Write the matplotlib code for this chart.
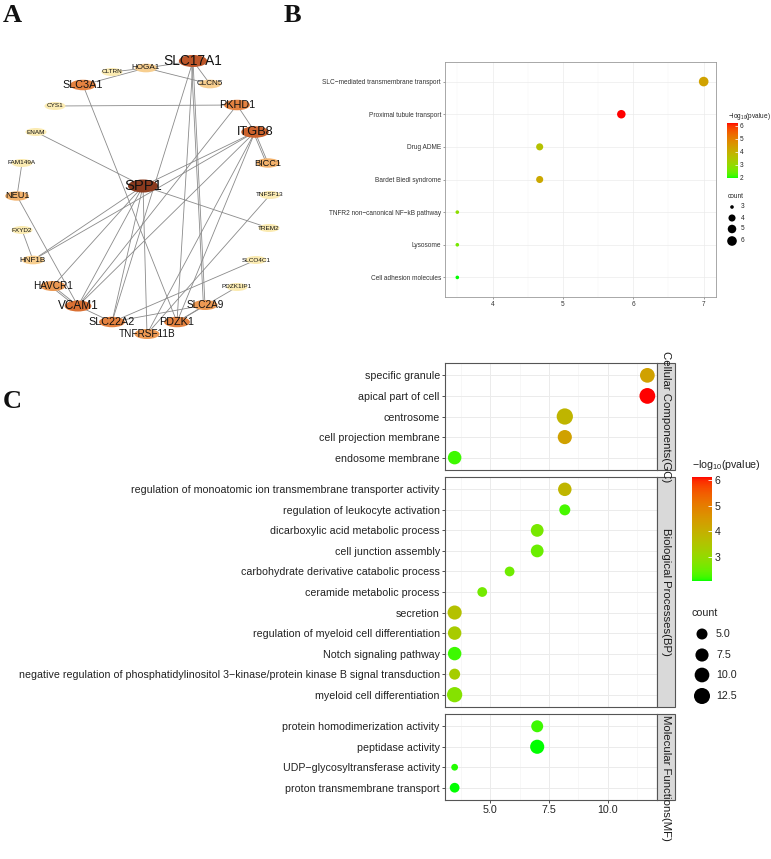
import numpy as np
import matplotlib
matplotlib.use('Agg')
import matplotlib.pyplot as plt
import matplotlib.colors as mcolors
from matplotlib.patches import Ellipse, Rectangle
from matplotlib.cm import ScalarMappable

plt.rcParams['font.family'] = ['Liberation Sans', 'DejaVu Sans']
plt.rcParams['mathtext.fontset'] = 'custom'
plt.rcParams['mathtext.rm'] = 'Liberation Sans'
plt.rcParams['mathtext.default'] = 'regular'

W, H = 771, 859

# ---------------- data: panel A (network) ----------------
genes = ["SPP1", "SLC17A1", "HOGA1", "CLTRN", "SLC3A1", "CLCN5", "CYS1", "PKHD1",
         "ENAM", "ITGB8", "FAM149A", "BICC1", "NEU1", "TNFSF13", "FXYD2", "TREM2",
         "HNF1B", "SLCO4C1", "HAVCR1", "PDZK1IP1", "VCAM1", "SLC2A9", "SLC22A2",
         "PDZK1", "TNFRSF11B"]
# layout positions (pixels)
gene_x = [143, 193, 146, 112, 83, 210, 55, 237, 36, 255, 22, 268, 17, 270, 22, 269,
          33, 256, 53, 237, 78, 205, 112, 177, 147]
gene_y = [186, 61, 68, 72, 85, 84, 106, 105, 132, 132, 163, 163, 196, 195, 230, 228,
          260, 260, 286, 287, 306, 305, 322, 322, 334]
gene_degree = [10, 8, 2, 1, 5, 2, 1, 5, 1, 7, 1, 3, 3, 1, 1, 1,
               2, 1, 4, 1, 6, 4, 5, 5, 4]
edges = [("SLC3A1", "HOGA1"), ("CLTRN", "HOGA1"), ("HOGA1", "SLC17A1"),
         ("HOGA1", "CLCN5"), ("SLC17A1", "CLCN5"), ("SLC17A1", "PDZK1"),
         ("SLC17A1", "SLC2A9"), ("SLC17A1", "SLC2A9"), ("SLC3A1", "PDZK1"),
         ("CYS1", "PKHD1"), ("PKHD1", "ITGB8"), ("PKHD1", "VCAM1"),
         ("ITGB8", "BICC1"), ("ITGB8", "BICC1"), ("ITGB8", "SPP1"),
         ("ITGB8", "VCAM1"), ("ITGB8", "TNFRSF11B"), ("ITGB8", "PDZK1"),
         ("ITGB8", "HNF1B"), ("ENAM", "SPP1"), ("SPP1", "TREM2"), ("SPP1", "HNF1B"),
         ("SPP1", "HAVCR1"), ("SPP1", "VCAM1"), ("SPP1", "SLC22A2"),
         ("SPP1", "TNFRSF11B"), ("FAM149A", "NEU1"), ("NEU1", "VCAM1"),
         ("FXYD2", "HNF1B"), ("HAVCR1", "VCAM1"), ("HAVCR1", "VCAM1"),
         ("TNFSF13", "TNFRSF11B"), ("SLCO4C1", "SLC22A2"), ("PDZK1IP1", "PDZK1"),
         ("SLC2A9", "PDZK1"), ("SLC22A2", "SLC2A9"), ("VCAM1", "SLC22A2"),
         ("SLC17A1", "SLC22A2")]

# ---------------- data: panel B (pathways) ----------------
b_terms = ["SLC\u2212mediated transmembrane transport", "Proximal tubule transport",
           "Drug ADME", "Bardet Biedl syndrome", "TNFR2 non\u2212canonical NF\u2212kB pathway",
           "Lysosome", "Cell adhesion molecules"]
b_x = [7.0, 5.83, 4.67, 4.67, 3.5, 3.5, 3.5]
b_count = [6, 5, 4, 4, 3, 3, 3]
b_logp = [4.3, 6.2, 3.6, 4.15, 2.9, 2.6, 2.0]
b_ticks = [4, 5, 6, 7]
b_size_breaks = [3, 4, 5, 6]

# ---------------- data: panel C (GO) ----------------
cc_terms = ["specific granule", "apical part of cell", "centrosome",
            "cell projection membrane", "endosome membrane"]
cc_x = [11.67, 11.67, 8.17, 8.17, 3.5]
cc_count = [10, 12, 13, 9, 8]
cc_logp = [4.3, 6.12, 3.85, 4.3, 2.2]

bp_terms = ["regulation of monoatomic ion transmembrane transporter activity",
            "regulation of leukocyte activation", "dicarboxylic acid metabolic process",
            "cell junction assembly", "carbohydrate derivative catabolic process",
            "ceramide metabolic process", "secretion",
            "regulation of myeloid cell differentiation", "Notch signaling pathway",
            "negative regulation of phosphatidylinositol 3\u2212kinase/protein kinase B signal transduction",
            "myeloid cell differentiation"]
bp_x = [8.17, 8.17, 7.0, 7.0, 5.83, 4.67, 3.5, 3.5, 3.5, 3.5, 3.5]
bp_count = [8, 5, 7, 7, 4, 4, 9, 8, 8, 5, 11]
bp_logp = [3.85, 2.25, 2.65, 2.5, 2.55, 2.6, 3.6, 3.35, 2.2, 3.3, 2.8]

mf_terms = ["protein homodimerization activity", "peptidase activity",
            "UDP\u2212glycosyltransferase activity", "proton transmembrane transport"]
mf_x = [7.0, 7.0, 3.5, 3.5]
mf_count = [6, 9, 3, 4]
mf_logp = [2.2, 2.05, 2.1, 2.05]

c_ticks = [5.0, 7.5, 10.0]
c_size_breaks = [5.0, 7.5, 10.0, 12.5]


# ---------------- helpers ----------------
def box(x0, y0, x1, y1):
    return [x0 / W, 1 - y1 / H, (x1 - x0) / W, (y1 - y0) / H]


def to_lab(hexcol):
    rgb = np.array(mcolors.to_rgb(hexcol))
    lin = np.where(rgb <= 0.04045, rgb / 12.92, ((rgb + 0.055) / 1.055) ** 2.4)
    M = np.array([[0.4124564, 0.3575761, 0.1804375],
                  [0.2126729, 0.7151522, 0.0721750],
                  [0.0193339, 0.1191920, 0.9503041]])
    t = M @ lin / np.array([0.95047, 1.0, 1.08883])
    d = 6 / 29
    f = np.where(t > d ** 3, np.cbrt(t), t / (3 * d * d) + 4 / 29)
    return np.array([116 * f[1] - 16, 500 * (f[0] - f[1]), 200 * (f[1] - f[2])])


def from_lab(lab):
    L, a, b = lab
    fy = (L + 16) / 116
    f = np.array([fy + a / 500, fy, fy - b / 200])
    d = 6 / 29
    t = np.where(f > d, f ** 3, 3 * d * d * (f - 4 / 29))
    xyz = t * np.array([0.95047, 1.0, 1.08883])
    Minv = np.array([[3.2404542, -1.5371385, -0.4985314],
                     [-0.9692660, 1.8760108, 0.0415560],
                     [0.0556434, -0.2040259, 1.0572252]])
    lin = np.clip(Minv @ xyz, 0, 1)
    rgb = np.where(lin <= 0.0031308, 12.92 * lin, 1.055 * lin ** (1 / 2.4) - 0.055)
    return np.clip(rgb, 0, 1)


# ggplot-like green -> red gradient (interpolated in Lab)
lo_lab, hi_lab = to_lab("#00FF00"), to_lab("#FF0000")
gg_cmap = mcolors.ListedColormap([from_lab(lo_lab * (1 - t) + hi_lab * t)
                                  for t in np.linspace(0, 1, 256)])


def dot_px(c, lo, hi, a, b):
    s = 1 + 5 * np.sqrt((np.asarray(c, float) - lo) / (hi - lo))
    return a * (s + 0.35) + b


def area(d):
    return (np.asarray(d) * 0.72) ** 2


fig = plt.figure(figsize=(W / 100, H / 100), dpi=100)

# ---------------- panel A ----------------
axa = fig.add_axes(box(0, 40, 300, 345))
axa.set_xlim(0, 300)
axa.set_ylim(345, 40)
axa.axis('off')
pos = {g: (x, y) for g, x, y in zip(genes, gene_x, gene_y)}
seen = {}
for u, v in edges:
    key = tuple(sorted((u, v)))
    k = seen.get(key, 0)
    seen[key] = k + 1
    (x0, y0), (x1, y1) = pos[u], pos[v]
    dx, dy = x1 - x0, y1 - y0
    n = np.hypot(dx, dy)
    off = 0 if k == 0 else 1.6
    ox, oy = -dy / n * off, dx / n * off
    axa.plot([x0 + ox, x1 + ox], [y0 + oy, y1 + oy], color='#8a8a8a', lw=0.6, zorder=1)

node_cmap = mcolors.LinearSegmentedColormap.from_list(
    'deg', ['#FBEBB2', '#F2AA62', '#E07636', '#C45A2A', '#8A3A1E'])
dmax = max(gene_degree)
for g, x, y, dg in zip(genes, gene_x, gene_y, gene_degree):
    col = node_cmap((dg - 1) / (dmax - 1))
    ew = np.interp(dg, [1, 4, 10], [21, 25, 30])
    eh = np.interp(dg, [1, 4, 10], [8, 10, 13])
    axa.add_patch(Ellipse((x, y), ew, eh, facecolor=col, edgecolor='none', zorder=2))
    fs = np.interp(dg, [1, 2, 4, 6, 8, 10], [4.6, 5.9, 7.2, 8.5, 9.9, 10.7])
    axa.text(x, y, g, fontsize=fs, ha='center', va='center', color='#111111', zorder=3)

# ---------------- panel B ----------------
axb = fig.add_axes(box(445, 62, 716, 297))
nb = len(b_terms)
yb = np.arange(nb)
b_norm = mcolors.Normalize(min(b_logp), max(b_logp))
b_d = dot_px(b_count, min(b_count), max(b_count), 1.2, 2.0)
axb.scatter(b_x, yb, s=area(b_d), c=b_logp, cmap=gg_cmap, norm=b_norm,
            linewidths=0, zorder=3)
span = max(b_x) - min(b_x)
axb.set_xlim(min(b_x) - 0.05 * span, max(b_x) + 0.05 * span)
axb.set_ylim(nb - 0.4, -0.6)
axb.set_yticks(yb)
axb.set_yticklabels(b_terms)
axb.set_xticks(b_ticks)
axb.set_xticks([t - 0.5 for t in b_ticks], minor=True)
axb.grid(True, which='major', color='#EBEBEB', lw=0.5)
axb.grid(True, which='minor', axis='x', color='#F2F2F2', lw=0.3)
axb.set_axisbelow(True)
axb.tick_params(axis='both', which='major', labelsize=4.7, length=1.6, width=0.4,
                color='#555555', labelcolor='#333333', pad=1.2)
axb.tick_params(which='minor', length=0)
for sp in axb.spines.values():
    sp.set_color('#9a9a9a')
    sp.set_linewidth(0.6)

# ---------------- panel C ----------------
c_all_count = cc_count + bp_count + mf_count
c_all_logp = cc_logp + bp_logp + mf_logp
c_all_x = cc_x + bp_x + mf_x
c_lo, c_hi = min(c_all_count), max(c_all_count)
c_norm = mcolors.Normalize(min(c_all_logp), max(c_all_logp))
c_span = max(c_all_x) - min(c_all_x)
c_xlim = (min(c_all_x) - 0.05 * c_span, max(c_all_x) + 0.05 * c_span)

facets = [(cc_terms, cc_x, cc_count, cc_logp, (363, 470), "Cellular Components(GC)", 'center'),
          (bp_terms, bp_x, bp_count, bp_logp, (477, 707), "Biological Processes(BP)", 'center'),
          (mf_terms, mf_x, mf_count, mf_logp, (714, 800), "Molecular Functions(MF)", 'top')]

strip_specs = []
for i, (terms, xs, cnt, lp, (y0, y1), strip, anchor) in enumerate(facets):
    ax = fig.add_axes(box(445, y0, 657, y1))
    n = len(terms)
    yy = np.arange(n)
    d = dot_px(cnt, c_lo, c_hi, 1.9, 4.2)
    ax.scatter(xs, yy, s=area(d), c=lp, cmap=gg_cmap, norm=c_norm, linewidths=0, zorder=3)
    ax.set_xlim(*c_xlim)
    ax.set_ylim(n - 0.4, -0.6)
    ax.set_yticks(yy)
    ax.set_yticklabels(terms)
    ax.set_xticks(c_ticks)
    ax.set_xticks([t - 1.25 for t in c_ticks] + [c_ticks[-1] + 1.25], minor=True)
    ax.grid(True, which='major', color='#EBEBEB', lw=0.7)
    ax.grid(True, which='minor', axis='x', color='#F2F2F2', lw=0.4)
    ax.set_axisbelow(True)
    ax.tick_params(axis='both', which='major', labelsize=7.7, length=2.2, width=0.6,
                   color='#333333', labelcolor='#222222', pad=1.5)
    ax.tick_params(which='minor', length=0)
    if i < len(facets) - 1:
        ax.tick_params(axis='x', labelbottom=False, length=0)
    for sp in ax.spines.values():
        sp.set_color('#555555')
        sp.set_linewidth(0.8)
    strip_specs.append((y0, y1, strip, anchor))

# ---------------- overlay: labels, strips, legends ----------------
ov = fig.add_axes([0, 0, 1, 1], facecolor='none')
ov.set_xlim(0, W)
ov.set_ylim(H, 0)
ov.axis('off')

for lab, (x, y) in zip("ABC", [(3, 22), (284, 22), (3, 408)]):
    ov.text(x, y, lab, fontsize=19, fontweight='bold', family='Liberation Serif',
            ha='left', va='baseline', color='#111111')

for y0, y1, strip, anchor in strip_specs:
    ov.add_patch(Rectangle((657, y0), 18, y1 - y0, facecolor='#D9D9D9',
                           edgecolor='#555555', lw=0.8))
    if anchor == 'center':
        ov.text(666, (y0 + y1) / 2, strip, rotation=270, fontsize=8.2,
                ha='center', va='center', color='#1a1a1a')
    else:
        ov.text(666, y0 + 1, strip, rotation=270, fontsize=8.2,
                ha='center', va='top', color='#1a1a1a')

# panel B legends
ov.text(728, 116, r'$-$log$_{10}$(pvalue)', fontsize=4.7, ha='left', va='center',
        color='#222222')
cax_b = fig.add_axes(box(727, 123, 738, 178))
cb = fig.colorbar(ScalarMappable(norm=b_norm, cmap=gg_cmap), cax=cax_b)
cb.outline.set_visible(False)
cb.set_ticks([2, 3, 4, 5, 6])
cax_b.tick_params(labelsize=4.7, length=2, width=0.5, color='white', direction='in',
                  pad=1.5, labelcolor='#222222')
ov.text(728, 196, "count", fontsize=4.7, ha='left', va='center', color='#222222')
lb_y = [207, 218, 229, 241]
ov.scatter([732] * 4, lb_y,
           s=area(dot_px(b_size_breaks, min(b_count), max(b_count), 1.2, 2.0)),
           color='black', linewidths=0)
for y, v in zip(lb_y, b_size_breaks):
    ov.text(741, y, str(v), fontsize=4.7, ha='left', va='center', color='#222222')

# panel C legends
ov.text(692, 465, r'$-$log$_{10}$(pvalue)', fontsize=7.7, ha='left', va='center',
        color='#222222')
cax_c = fig.add_axes(box(692, 477, 712, 581))
cb2 = fig.colorbar(ScalarMappable(norm=c_norm, cmap=gg_cmap), cax=cax_c)
cb2.outline.set_visible(False)
cb2.set_ticks([3, 4, 5, 6])
cax_c.tick_params(labelsize=7.7, length=3, width=0.6, color='white', direction='in',
                  pad=2, labelcolor='#222222')
ov.text(692, 613, "count", fontsize=7.7, ha='left', va='center', color='#222222')
lc_y = [634, 655, 675, 696]
ov.scatter([702] * 4, lc_y, s=area(dot_px(c_size_breaks, c_lo, c_hi, 1.9, 4.2)),
           color='black', linewidths=0)
for y, v in zip(lc_y, c_size_breaks):
    ov.text(716, y, f"{v:.1f}", fontsize=7.7, ha='left', va='center', color='#222222')

fig.savefig("out.png", dpi=100)
